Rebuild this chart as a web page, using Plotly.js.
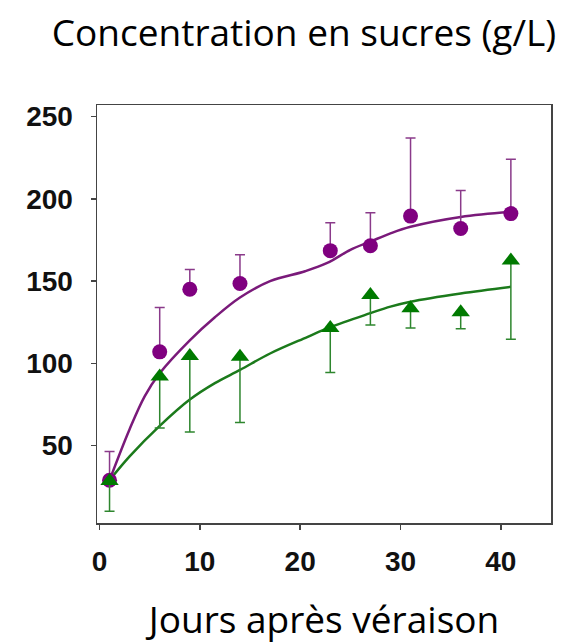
<!DOCTYPE html>
<html>
<head>
<meta charset="utf-8">
<script src="https://cdn.plot.ly/plotly-3.0.1.min.js"></script>
<style>html,body{margin:0;padding:0;background:#fff;}#chart{width:577px;height:644px;}</style>
</head>
<body>
<div id="chart"></div>
<script>
// Data
const days = [1, 6, 9, 14, 23, 27, 31, 36, 41];
const purpleMean = [29, 107, 145, 148.5, 168.5, 171.5, 189.5, 182, 191];
const purpleErrUp = [17.5, 27, 12, 17.5, 17, 20, 47.5, 23, 33];
const greenMean = [28.5, 92, 104.5, 104, 121.5, 141.5, 133.5, 131, 162.5];
const greenErrDown = [18.3, 31.3, 46.2, 40, 27.1, 18.2, 12, 10, 47.8];

const purpleFitX = [1, 3, 4.5, 6, 9, 11.5, 14, 17, 20.5, 22.7, 25, 27, 29, 31, 36, 41];
const purpleFitY = [29, 60, 80, 94, 114, 128, 140, 150, 156, 161, 169, 174, 179, 183, 189, 192];
const greenFitX = [1, 3, 6, 9, 11.5, 14, 17, 20.7, 23, 27, 29, 31, 36, 41];
const greenFitY = [29, 43.5, 62, 78, 88, 96, 106, 116, 122, 130.5, 134.5, 137.5, 142.5, 146.5];

const xTicks = [0, 10, 20, 30, 40];
const yTicks = [50, 100, 150, 200, 250];

const titleText = 'Concentration en sucres (g/L)';
const xTitleText = 'Jours après véraison';

const purple = '#800080';
const green = '#007a00';

const traces = [
  {x: purpleFitX, y: purpleFitY, mode: 'lines', line: {color: '#7a1a7a', width: 2.5, shape: 'spline'}, hoverinfo: 'skip'},
  {x: greenFitX, y: greenFitY, mode: 'lines', line: {color: '#1b7a1b', width: 2.5, shape: 'spline'}, hoverinfo: 'skip'},
  {x: days, y: purpleMean, mode: 'markers',
   marker: {symbol: 'circle', size: 15, color: purple},
   error_y: {type: 'data', symmetric: false, array: purpleErrUp, arrayminus: days.map(() => 0), color: '#8a3a8a', thickness: 1.5, width: 5}},
  {x: days, y: greenMean, mode: 'markers',
   marker: {symbol: 'triangle-up', size: 16, color: green},
   error_y: {type: 'data', symmetric: false, array: days.map(() => 0), arrayminus: greenErrDown, color: '#2e862e', thickness: 1.5, width: 5}}
];

const axisFont = {family: 'Liberation Sans, Arial, sans-serif', size: 28, color: '#111', weight: 'bold'};
const titleFont = {family: 'Open Sans, sans-serif', size: 37, color: '#000'};

const layout = {
  width: 577, height: 644,
  margin: {l: 97, r: 26, t: 105, b: 121, pad: 0},
  paper_bgcolor: '#fff', plot_bgcolor: '#fff',
  showlegend: false,
  title: {text: titleText, font: titleFont,
          xref: 'paper', x: (304 - 97) / 454, xanchor: 'center', yref: 'container', y: 1 - 33/644, yanchor: 'middle'},
  xaxis: {range: [-0.25, 45], tickvals: xTicks, ticktext: xTicks.map(String),
          showgrid: false, zeroline: false, showline: true, linecolor: '#444', linewidth: 1.5, mirror: true,
          ticks: 'outside', ticklen: 5, tickcolor: '#444', tickwidth: 1.5, ticklabelstandoff: 8,
          tickfont: axisFont,
          title: {text: xTitleText, font: titleFont, standoff: 34}},
  yaxis: {range: [3, 257], tickvals: yTicks, ticktext: yTicks.map(String),
          showgrid: false, zeroline: false, showline: true, linecolor: '#444', linewidth: 1.5, mirror: true,
          ticks: 'outside', ticklen: 5, tickcolor: '#444', tickwidth: 1.5, ticklabelstandoff: 12,
          tickfont: axisFont}
};

Plotly.newPlot('chart', traces, layout, {displayModeBar: false, staticPlot: true});
</script>
</body>
</html>
